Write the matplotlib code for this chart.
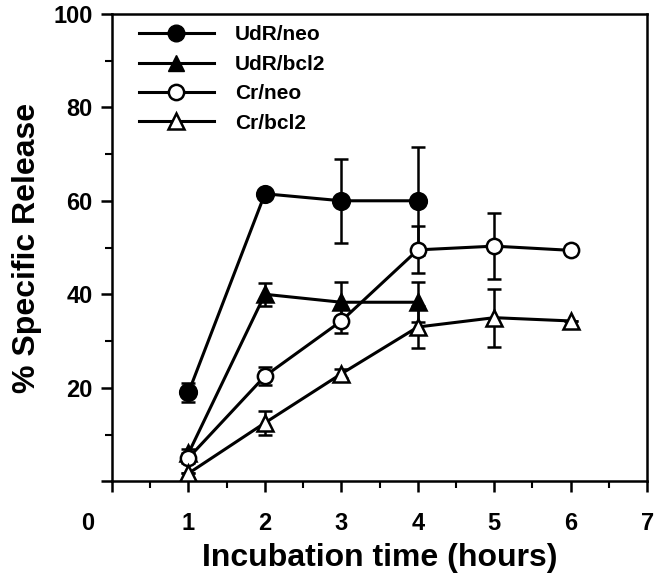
import matplotlib
matplotlib.use('Agg')
import matplotlib.pyplot as plt
from matplotlib.ticker import MultipleLocator
from matplotlib.lines import Line2D
from matplotlib.transforms import ScaledTranslation

plt.rcParams['font.family'] = ['Liberation Sans', 'DejaVu Sans']
plt.rcParams['font.weight'] = 'bold'

# data
hours = [1, 2, 3, 4, 5, 6]

udr_neo_x = [1, 2, 3, 4]
udr_neo = [19, 61.5, 60, 60]
udr_neo_err = [2, 0, 9, 11.5]

udr_bcl2_x = [1, 2, 3, 4]
udr_bcl2 = [6, 40, 38.3, 38.3]
udr_bcl2_err = [1, 2.5, 4.3, 4.3]

cr_neo = [5, 22.5, 34.3, 49.5, 50.3, 49.4]
cr_neo_err = [1, 2, 2.5, 5, 7, 0]

cr_bcl2 = [1.7, 12.5, 23, 33, 35, 34.3]
cr_bcl2_err = [0, 2.5, 1, 4.5, 6.2, 0]

names = ['UdR/neo', 'UdR/bcl2', 'Cr/neo', 'Cr/bcl2']
x_ticks = [0, 1, 2, 3, 4, 5, 6, 7]
x_ticklabels = ['', '1', '2', '3', '4', '5', '6', '7']
y_ticks = [0, 20, 40, 60, 80, 100]
y_ticklabels = ['', '20', '40', '60', '80', '100']

fig = plt.figure(figsize=(6.63, 5.73), dpi=100)
ax = fig.add_axes([0.169, 0.160, 0.807, 0.816])

style = dict(color='black', lw=2.2, elinewidth=1.8, capsize=5, capthick=1.8, mew=1.8)
ax.errorbar(udr_neo_x, udr_neo, yerr=udr_neo_err, fmt='-o', ms=12,
            mfc='black', zorder=3, **style)
ax.errorbar(udr_bcl2_x, udr_bcl2, yerr=udr_bcl2_err, fmt='-^', ms=12,
            mfc='black', zorder=3, **style)
ax.errorbar(hours, cr_neo, yerr=cr_neo_err, fmt='-o', ms=11,
            mfc='white', zorder=4, **style)
ax.errorbar(hours, cr_bcl2, yerr=cr_bcl2_err, fmt='-^', ms=11,
            mfc='white', zorder=4, **style)

ax.set_xlim(0, 7)
ax.set_ylim(0, 100)
ax.set_xticks(x_ticks)
ax.set_xticklabels(x_ticklabels)
ax.xaxis.set_minor_locator(MultipleLocator(0.5))
ax.set_yticks(y_ticks)
ax.set_yticklabels(y_ticklabels)
ax.yaxis.set_minor_locator(MultipleLocator(10))
ax.tick_params(which='major', direction='out', length=8, width=1.8, labelsize=17, pad=6)
ax.tick_params(which='minor', direction='out', length=5, width=1.5)
ax.tick_params(axis='x', pad=14)
for s in ax.spines.values():
    s.set_linewidth(1.8)

# the "0" on the x axis sits left of its tick in the original
off = ScaledTranslation(-0.24, -0.305, fig.dpi_scale_trans)
ax.text(0, 0, '0', transform=ax.get_xaxis_transform() + off,
        ha='center', va='top', fontsize=17, fontweight='bold')

ax.set_xlabel('Incubation time (hours)', fontsize=23, fontweight='bold', labelpad=6)
ax.set_ylabel('% Specific Release', fontsize=23, fontweight='bold', labelpad=8)

handles = [
    Line2D([], [], color='black', lw=2.2, marker='o', ms=12, mfc='black'),
    Line2D([], [], color='black', lw=2.2, marker='^', ms=12, mfc='black'),
    Line2D([], [], color='black', lw=2.2, marker='o', ms=11, mfc='white', mew=1.8),
    Line2D([], [], color='black', lw=2.2, marker='^', ms=11, mfc='white', mew=1.8),
]
ax.legend(handles, names, loc='upper left', bbox_to_anchor=(0.015, 1.015), frameon=False,
          fontsize=15, handlelength=3.6, labelspacing=0.5, handletextpad=1.0)

fig.savefig('out.png', dpi=100)
